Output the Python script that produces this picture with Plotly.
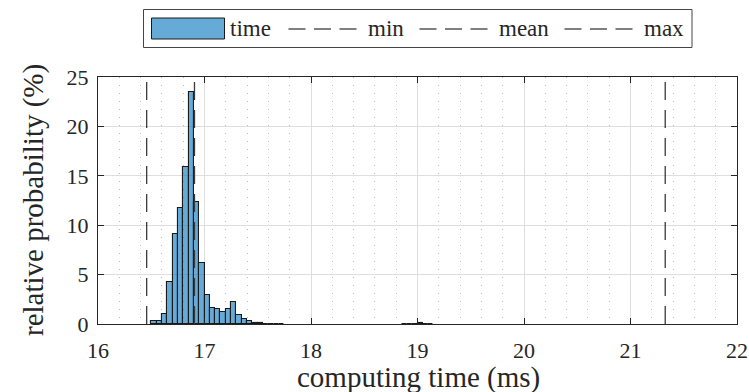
import plotly.graph_objects as go

# ---- data ----
bin_width = 0.05
bin_left = [16.50, 16.55, 16.60, 16.65, 16.70, 16.75, 16.80, 16.85, 16.90, 16.95,
            17.00, 17.05, 17.10, 17.15, 17.20, 17.25, 17.30, 17.35, 17.40, 17.45,
            17.50, 17.55, 17.60, 17.65, 17.70,
            18.85, 18.90, 18.95, 19.00, 19.05, 19.10]
percent = [0.30, 0.35, 1.05, 4.30, 9.06, 11.76, 15.85, 23.50, 12.33, 6.19,
           2.97, 1.65, 1.55, 1.18, 1.55, 2.20, 0.93, 0.52, 0.30, 0.15,
           0.10, 0.05, 0.03, 0.02, 0.01,
           0.02, 0.04, 0.05, 0.07, 0.05, 0.03]
stat_names = ["min", "mean", "max"]
stat_values = [16.457, 16.906, 21.326]
x_ticks = [16, 17, 18, 19, 20, 21, 22]
y_ticks = [0, 5, 10, 15, 20, 25]
x_title = "computing time (ms)"
y_title = "relative probability (%)"

FONT = "Liberation Serif"
DARK = "#262626"
BAR_FILL = "rgba(0,114,189,0.6)"
LINE_COL = "#3a3a3a"

W, H = 749, 392
L, R, T, B = 98, 737, 77, 324


def px(x):
    return (x - L) / (R - L)


def py(y):
    return (B - y) / (B - T)


fig = go.Figure()
fig.add_trace(go.Bar(
    x=bin_left, y=percent, width=bin_width, offset=0,
    marker=dict(color=BAR_FILL, line=dict(color="#1a1a1a", width=1.1)),
    name="time", showlegend=False,
))
for name, v in zip(stat_names, stat_values):
    fig.add_trace(go.Scatter(
        x=[v, v], y=[y_ticks[0], y_ticks[-1]], mode="lines", name=name,
        line=dict(color=LINE_COL, width=1.3, dash="18px,10px"),
        showlegend=False, hoverinfo="skip",
    ))

axis_common = dict(
    showline=True, linecolor=DARK, linewidth=1.4, mirror="ticks",
    ticks="inside", ticklen=6, tickwidth=1.3, tickcolor=DARK,
    showgrid=True, gridcolor="#dedede", gridwidth=1,
    zeroline=False, automargin=False,
    tickfont=dict(family=FONT, size=22, color=DARK),
)

fig.update_xaxes(
    range=[x_ticks[0], x_ticks[-1]], tickvals=x_ticks, ticklabelstandoff=6,
    minor=dict(dtick=0.2, showgrid=True, griddash="1px,7px", gridcolor="#b8b8b8", gridwidth=1, ticks=""),
    **axis_common,
)
fig.update_yaxes(
    range=[y_ticks[0], y_ticks[-1]], tickvals=y_ticks, ticklabelstandoff=4,
    **axis_common,
)

# ---- hand-built legend (MATLAB style) and axis titles ----
shapes = []
annotations = []
shapes.append(dict(type="rect", xref="paper", yref="paper",
                   x0=px(143.5), x1=px(692), y0=py(9.5), y1=py(47.5),
                   line=dict(color="#444444", width=1), fillcolor="white", layer="above"))
shapes.append(dict(type="rect", xref="paper", yref="paper",
                   x0=px(151.5), x1=px(224.5), y0=py(18), y1=py(39),
                   line=dict(color="#1a1a1a", width=1), fillcolor=BAR_FILL, layer="above"))
ycen = 29
annotations.append(dict(text="time", xref="paper", yref="paper", x=px(228), y=py(ycen),
                        xanchor="left", yanchor="middle", showarrow=False,
                        font=dict(family=FONT, size=23, color=DARK)))
groups = [(288.5, 366), (419.5, 497), (564.5, 642)]
for (gx, tx), name in zip(groups, stat_names):
    for k in range(3):
        x0 = gx + k * 25.5
        shapes.append(dict(type="line", xref="paper", yref="paper",
                           x0=px(x0), x1=px(x0 + 17), y0=py(ycen), y1=py(ycen),
                           line=dict(color=LINE_COL, width=1.3), layer="above"))
    annotations.append(dict(text=name, xref="paper", yref="paper", x=px(tx), y=py(ycen),
                            xanchor="left", yanchor="middle", showarrow=False,
                            font=dict(family=FONT, size=23, color=DARK)))

annotations.append(dict(text=x_title, xref="paper", yref="paper", x=px(418), y=py(377),
                        xanchor="center", yanchor="middle", showarrow=False,
                        font=dict(family=FONT, size=29, color=DARK)))
annotations.append(dict(text=y_title, xref="paper", yref="paper", x=px(33), y=py(200),
                        xanchor="center", yanchor="middle", showarrow=False, textangle=-90,
                        font=dict(family=FONT, size=29, color=DARK)))

fig.update_layout(
    width=W, height=H,
    margin=dict(l=L, r=W - R, t=T, b=H - B, pad=0),
    plot_bgcolor="white", paper_bgcolor="white",
    bargap=0, showlegend=False,
    shapes=shapes, annotations=annotations,
    font=dict(family=FONT, color=DARK),
)

fig.write_html("out.html", config={"displayModeBar": False},
               post_script="document.body.style.margin='0px';document.body.style.overflow='hidden';")
